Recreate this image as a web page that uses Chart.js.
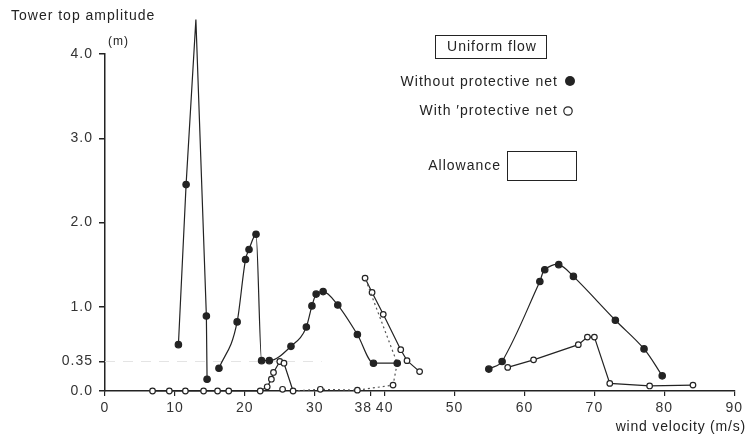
<!DOCTYPE html>
<html><head><meta charset="utf-8">
<script src="https://cdn.jsdelivr.net/npm/chart.js@4"></script>
<style>
html,body{margin:0;padding:0;background:#fff}
#wrap{position:relative;width:746px;height:438px}
</style></head><body>
<div id="wrap"><canvas id="c"></canvas></div>
<script>
// ---------- data ----------
const xTicks = [0, 10, 20, 30, 38, 40, 50, 60, 70, 80, 90];   // wind velocity (m/s)
const yTicks = [0, 0.35, 1, 2, 3, 4];                           // amplitude (m)

// Without protective net (filled dots), three separate branches
const noNet1V = [10.5, 11.6, 13.0, 14.5, 14.6];
const noNet1A = [0.55, 2.45, 4.41, 0.89, 0.14];
const noNet2V = [16.3, 18.9, 20.1, 20.6, 21.6, 22.4, 23.5, 26.6, 28.8, 29.6, 30.2, 31.2, 33.3, 36.1, 38.4, 41.8];
const noNet2A = [0.27, 0.82, 1.56, 1.68, 1.86, 0.36, 0.36, 0.53, 0.76, 1.01, 1.15, 1.18, 1.02, 0.67, 0.33, 0.33];
const noNet3V = [54.9, 56.8, 62.2, 62.9, 64.9, 67.0, 73.0, 77.1, 79.7];
const noNet3A = [0.26, 0.35, 1.30, 1.44, 1.50, 1.36, 0.84, 0.50, 0.18];

// With protective net (open circles)
const net1V = [6.8, 9.2, 11.5, 14.1, 16.1, 17.7, 22.2, 23.2, 23.8, 24.1, 25.0, 25.6, 26.9];
const net1A = [0, 0, 0, 0, 0, 0, 0, 0.05, 0.14, 0.22, 0.35, 0.33, 0];
const netStrayV = [25.4];
const netStrayA = [0.02];
const netDotV = [26.9, 30.8, 36.1, 41.2, 41.8, 37.2];        // dotted jump path
const netDotA = [0, 0.02, 0.01, 0.07, 0.33, 1.34];
const netDotR = [0, 2.8, 2.8, 2.8, 0, 0];
const net2V = [37.2, 38.2, 39.8, 42.3, 43.2, 45.0];
const net2A = [1.34, 1.17, 0.91, 0.49, 0.36, 0.23];
const net3V = [57.6, 61.3, 67.7, 69.0, 70.0, 72.2, 77.9, 84.1];
const net3A = [0.28, 0.37, 0.55, 0.64, 0.64, 0.09, 0.06, 0.07];

// faint allowance level at 0.35 m
const allowV = [0, 31];
const allowA = [0.35, 0.35];

// ---------- helpers ----------
const INK = "#232323";
const FONT = "'Liberation Sans', Arial, sans-serif";
function pts(v, a){ return v.map((x, i) => ({x, y: a[i]})); }
function series(v, a, filled, extra={}){
  return Object.assign({
    data: pts(v, a), borderColor: INK, borderWidth: 1.2,
    pointRadius: filled ? 3.2 : 2.8, pointBorderWidth: 1.2,
    pointBackgroundColor: filled ? INK : "#fff", pointBorderColor: INK,
    tension: 0, clip: false, fill: false
  }, extra);
}

// the scan's lettering is wider than Arial: stretch it a bit (also for tick labels)
const spacing = {
  id: "spacing",
  beforeDraw(chart){ chart.ctx.letterSpacing = "1px"; }
};

// texts + legend drawn straight onto the canvas
const notes = {
  id: "notes",
  afterDraw(chart){
    const ctx = chart.ctx;
    ctx.save();
    ctx.fillStyle = INK; ctx.strokeStyle = INK;
    ctx.textBaseline = "middle";
    ctx.letterSpacing = "1px";
    ctx.font = "14px " + FONT;
    ctx.textAlign = "left";
    ctx.fillText("Tower top amplitude", 11, 16);
    ctx.font = "12px " + FONT;
    ctx.fillText("(m)", 108, 42);
    ctx.font = "14px " + FONT;
    ctx.textAlign = "right";
    ctx.letterSpacing = "0.8px";
    ctx.fillText("wind velocity (m/s)", 746, 427);
    ctx.letterSpacing = "1px";

    // legend block
    ctx.lineWidth = 1;
    ctx.strokeRect(435.5, 35.5, 111, 23);
    ctx.textAlign = "center";
    ctx.fillText("Uniform flow", 492, 47);
    ctx.textAlign = "right";
    ctx.fillText("Without protective net", 558, 82);
    ctx.fillText("With \u2032protective net", 558, 111);
    ctx.fillText("Allowance", 501, 166);
    ctx.strokeRect(507.5, 151.5, 69, 29);
    ctx.beginPath(); ctx.arc(570, 81, 5, 0, Math.PI * 2); ctx.fill();
    ctx.beginPath(); ctx.lineWidth = 1.2; ctx.arc(568, 111, 4.2, 0, Math.PI * 2); ctx.stroke();
    ctx.restore();
  }
};

// ---------- chart ----------
new Chart(document.getElementById("c"), {
  type: "line",
  data: {datasets: [
    series(noNet1V, noNet1A, true),
    series(noNet2V, noNet2A, true, {cubicInterpolationMode: "monotone"}),
    series(noNet3V, noNet3A, true, {tension: 0.35}),
    series(net1V, net1A, false),
    series(netStrayV, netStrayA, false, {showLine: false}),
    series(netDotV, netDotA, false, {borderDash: [2, 3], borderColor: "#555", pointRadius: netDotR}),
    series(net2V, net2A, false),
    series(net3V, net3A, false),
    series(allowV, allowA, false, {borderColor: "#e4e4e4", borderDash: [10, 8], pointRadius: 0, order: 5})
  ]},
  options: {
    responsive: true, maintainAspectRatio: false, animation: false,
    layout: {padding: {left: 0, top: 54, right: 11, bottom: 17}},
    plugins: {legend: {display: false}, tooltip: {enabled: false}},
    scales: {
      x: {type: "linear", min: 0, max: 90,
        afterBuildTicks: s => { s.ticks = xTicks.map(v => ({value: v})); },
        afterFit: s => { s.height = 30; },
        ticks: {autoSkip: false, maxRotation: 0, color: "#333", padding: 4,
          font: {family: FONT, size: 14},
          callback: v => v === 38 ? "38\u2003" : String(v)},
        grid: {drawOnChartArea: false, tickLength: 5, color: INK, lineWidth: 1.2},
        border: {color: INK, width: 1.5}},
      y: {min: 0, max: 4,
        afterBuildTicks: s => { s.ticks = yTicks.map(v => ({value: v})); },
        afterFit: s => { s.width = 105; },
        ticks: {autoSkip: false, color: "#333", padding: 6,
          font: {family: FONT, size: 14},
          callback: v => v === 0.35 ? "0.35" : v.toFixed(1)},
        grid: {drawOnChartArea: false, tickLength: 6, color: INK, lineWidth: 1.5},
        border: {color: INK, width: 1.5}}
    }
  },
  plugins: [spacing, notes]
});
</script>
</body></html>
